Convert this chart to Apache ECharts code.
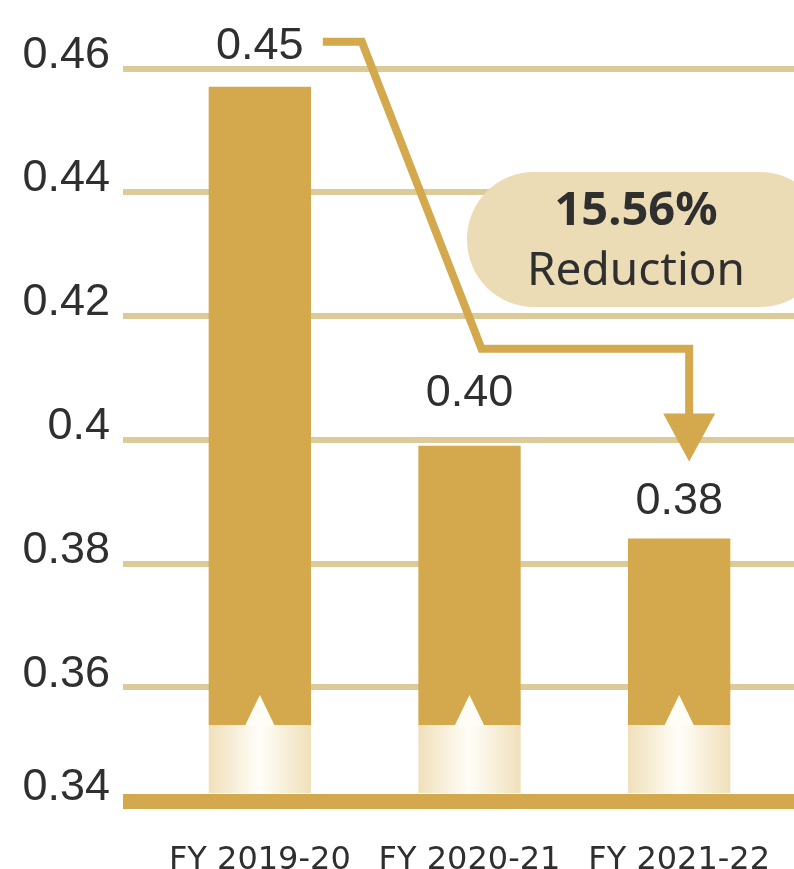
<!DOCTYPE html>
<html>
<head>
<meta charset="utf-8">
<title>Reduction chart</title>
<script src="https://cdn.jsdelivr.net/npm/echarts@6.0.0/dist/echarts.min.js"></script>
<style>
  html, body { margin: 0; padding: 0; background: #fff; }
  #chart { width: 794px; height: 869px; }
</style>
</head>
<body>
<div id="chart"></div>
<script>
  // data
  var categories = ['FY 2019-20', 'FY 2020-21', 'FY 2021-22']
  var barValues = [0.457, 0.399, 0.384]
  var barLabels = ['0.45', '0.40', '0.38']
  var yTicks = [0.34, 0.36, 0.38, 0.40, 0.42, 0.44, 0.46]
  var reduction = '15.56%'

  // axis is broken at the bottom: 0.34 sits a bit closer than a full step
  var Y_MIN = 0.3416
  var Y_MAX = 0.4678
  var BREAK_AT = 0.3539
  var labelLift = [25, 37, 22]

  var GOLD = '#d4a84c'
  var GRID_LINE = '#dccb98'
  var TEXT = '#2f2f2f'

  var chart = echarts.init(document.getElementById('chart'))

  function renderBar(params, api) {
    var i = api.value(0)
    var v = api.value(1)
    var top = api.coord([i, v])
    var cut = api.coord([i, BREAK_AT])
    var base = api.coord([i, Y_MIN])
    var w = api.size([1, 0])[0] * 0.488
    var x = top[0] - w / 2
    var cx = top[0]
    return {
      type: 'group',
      children: [
        {
          type: 'rect',
          shape: {x: x, y: top[1], width: w, height: cut[1] - top[1]},
          style: {fill: GOLD}
        },
        {
          type: 'rect',
          shape: {x: x, y: cut[1], width: w, height: base[1] - 8 - cut[1]},
          style: {
            fill: new echarts.graphic.LinearGradient(0, 0, 1, 0, [
              {offset: 0, color: '#f0e0ba'},
              {offset: 0.5, color: '#fffef9'},
              {offset: 1, color: '#f0e0ba'}
            ])
          }
        },
        {
          type: 'polygon',
          shape: {points: [[cx - 15, cut[1] + 1], [cx, cut[1] - 30], [cx + 15, cut[1] + 1]]},
          style: {fill: '#fffdf6'}
        },
        {
          type: 'text',
          style: {
            x: cx,
            y: top[1] - labelLift[params.dataIndex] + 7,
            text: barLabels[params.dataIndex],
            fill: TEXT,
            font: '45px "Liberation Sans", Arial, sans-serif',
            align: 'center',
            verticalAlign: 'bottom'
          }
        }
      ]
    }
  }

  var tickPos = yTicks.map(function (t) { return Math.max(t, Y_MIN) })

  chart.setOption({
    animation: false,
    grid: [
      {left: 123, right: 0, top: 20, bottom: 68, outerBoundsMode: 'none'},
      {left: 155, right: 10, top: 20, bottom: 68, outerBoundsMode: 'none'}
    ],
    xAxis: [
      {
        gridIndex: 0,
        type: 'value',
        min: 0,
        max: 1,
        axisLine: {show: true, onZero: false, lineStyle: {color: GOLD, width: 15, cap: 'butt'}},
        axisTick: {show: false},
        axisLabel: {show: false},
        splitLine: {show: false}
      },
      {
        gridIndex: 1,
        type: 'category',
        data: categories,
        axisLine: {show: false},
        axisTick: {show: false},
        axisLabel: {
          interval: 0,
          hideOverlap: false,
          color: TEXT,
          fontSize: 32,
          fontFamily: '"DejaVu Sans", sans-serif',
          margin: 44
        }
      }
    ],
    yAxis: [
      {
        gridIndex: 0,
        type: 'value',
        min: Y_MIN,
        max: Y_MAX,
        axisLine: {show: false},
        axisTick: {show: false, customValues: tickPos},
        axisLabel: {
          customValues: tickPos,
          formatter: function (val) {
            return val < 0.35 ? '0.34' : String(+val.toFixed(2))
          },
          color: TEXT,
          fontSize: 45,
          fontFamily: '"Liberation Sans", Arial, sans-serif',
          margin: 13,
          verticalAlign: 'bottom',
          lineHeight: 26
        },
        splitLine: {show: true, lineStyle: {color: GRID_LINE, width: 6}}
      },
      {
        gridIndex: 1,
        type: 'value',
        min: Y_MIN,
        max: Y_MAX,
        show: false,
        splitLine: {show: false}
      }
    ],
    series: [
      {
        type: 'custom',
        xAxisIndex: 1,
        yAxisIndex: 1,
        renderItem: renderBar,
        encode: {x: 0, y: 1},
        data: barValues.map(function (v, i) { return [i, v] }),
        z: 3
      }
    ]
  })

  // reduction arrow and the pill, hung off the bar tops
  var p = barValues.map(function (v, i) {
    return chart.convertToPixel({seriesIndex: 0}, [i, v])
  })
  var yLine1 = p[0][1] - 45
  var yLine2 = p[1][1] - 97
  var ax = p[2][0] + 10

  chart.setOption({
    graphic: [
      {
        type: 'rect',
        z: 1,
        shape: {x: 467, y: 172, width: 360, height: 135, r: 67},
        style: {fill: '#ecdcb6'}
      },
      {
        type: 'text',
        z: 2,
        style: {
          x: 636, y: 212, text: reduction, fill: TEXT,
          font: 'bold 47px "Noto Sans", sans-serif', align: 'center', verticalAlign: 'middle'
        }
      },
      {
        type: 'text',
        z: 2,
        style: {
          x: 636, y: 272, text: 'Reduction', fill: TEXT,
          font: '46px "Noto Sans", sans-serif', align: 'center', verticalAlign: 'middle'
        }
      },
      {
        type: 'polyline',
        z: 5,
        shape: {
          points: [
            [p[0][0] + 63, yLine1],
            [p[0][0] + 102, yLine1],
            [p[1][0] + 12, yLine2],
            [ax, yLine2],
            [ax, p[2][1] - 120]
          ]
        },
        style: {stroke: GOLD, lineWidth: 8, fill: null, lineJoin: 'miter'}
      },
      {
        type: 'polygon',
        z: 5,
        shape: {
          points: [
            [ax - 26, p[2][1] - 125],
            [ax + 26, p[2][1] - 125],
            [ax, p[2][1] - 77]
          ]
        },
        style: {fill: GOLD}
      }
    ]
  })
</script>
</body>
</html>
